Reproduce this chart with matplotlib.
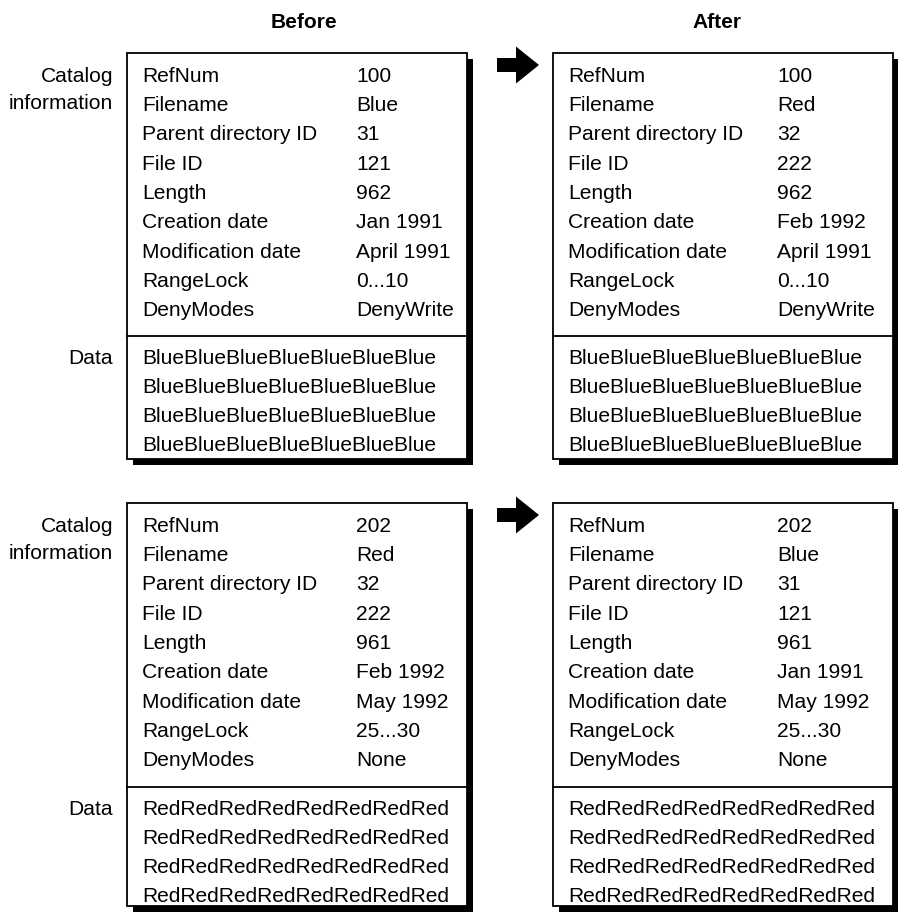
import matplotlib
matplotlib.use("Agg")
import matplotlib.pyplot as plt
from matplotlib.patches import Rectangle, FancyArrow

plt.rcParams["font.family"] = ["Liberation Sans", "DejaVu Sans"]

# field names of a catalog record
fields = ["RefNum", "Filename", "Parent directory ID", "File ID", "Length",
          "Creation date", "Modification date", "RangeLock", "DenyModes"]

# values before the exchange
before_1 = ["100", "Blue", "31", "121", "962", "Jan 1991", "April 1991", "0...10", "DenyWrite"]
before_2 = ["202", "Red", "32", "222", "961", "Feb 1992", "May 1992", "25...30", "None"]

# values after the exchange
after_1 = ["100", "Red", "32", "222", "962", "Feb 1992", "April 1991", "0...10", "DenyWrite"]
after_2 = ["202", "Blue", "31", "121", "961", "Jan 1991", "May 1992", "25...30", "None"]

data_1 = ["Blue" * 7] * 4
data_2 = ["Red" * 8] * 4

W, H = 898, 914
fig = plt.figure(figsize=(W / 100, H / 100), dpi=100)
ax = fig.add_axes([0, 0, 1, 1])
ax.set_xlim(0, W)
ax.set_ylim(H, 0)
ax.axis("off")

FS = 15.1
ROW = 29.25
BW = 340
# baseline offset from box top / divider
TOP_OFF = 29
DIV_OFF = 28


def draw_box(x0, top, bottom, divider, vals, data, val_x):
    ax.add_patch(Rectangle((x0 + 6, top + 6), BW, bottom - top, facecolor="black",
                           edgecolor="none", zorder=1))
    ax.add_patch(Rectangle((x0, top), BW, bottom - top, facecolor="white",
                           edgecolor="black", linewidth=1.3, zorder=2))
    ax.plot([x0, x0 + BW], [divider, divider], color="black", lw=1.3, zorder=3)
    for i, (name, v) in enumerate(zip(fields, vals)):
        y = round(top + TOP_OFF + i * ROW)
        ax.text(x0 + 15, y, name, fontsize=FS, va="baseline", ha="left", zorder=4)
        ax.text(val_x, y, v, fontsize=FS, va="baseline", ha="left", zorder=4)
    for i, d in enumerate(data):
        y = divider + DIV_OFF + i * 29
        ax.text(x0 + 15, y, d, fontsize=FS, va="baseline", ha="left", zorder=4)


ax.text(304, 28, "Before", fontsize=FS, fontweight="bold", ha="center", va="baseline")
ax.text(717, 28, "After", fontsize=FS, fontweight="bold", ha="center", va="baseline")

rows = [(53, 459, 336, before_1, after_1, data_1),
        (503, 906, 787, before_2, after_2, data_2)]

for top, bottom, divider, bvals, avals, data in rows:
    ax.text(113, top + TOP_OFF, "Catalog", fontsize=FS, ha="right", va="baseline")
    ax.text(113, top + TOP_OFF + 27, "information", fontsize=FS, ha="right", va="baseline")
    ax.text(113, divider + DIV_OFF, "Data", fontsize=FS, ha="right", va="baseline")
    draw_box(127, top, bottom, divider, bvals, data, 356)
    draw_box(553, top, bottom, divider, avals, data, 777)
    ay = top + 12
    ax.add_patch(FancyArrow(497, ay, 42, 0, width=14, head_width=37, head_length=23,
                            length_includes_head=True, color="black", lw=0))

fig.savefig("out.png", dpi=100)
